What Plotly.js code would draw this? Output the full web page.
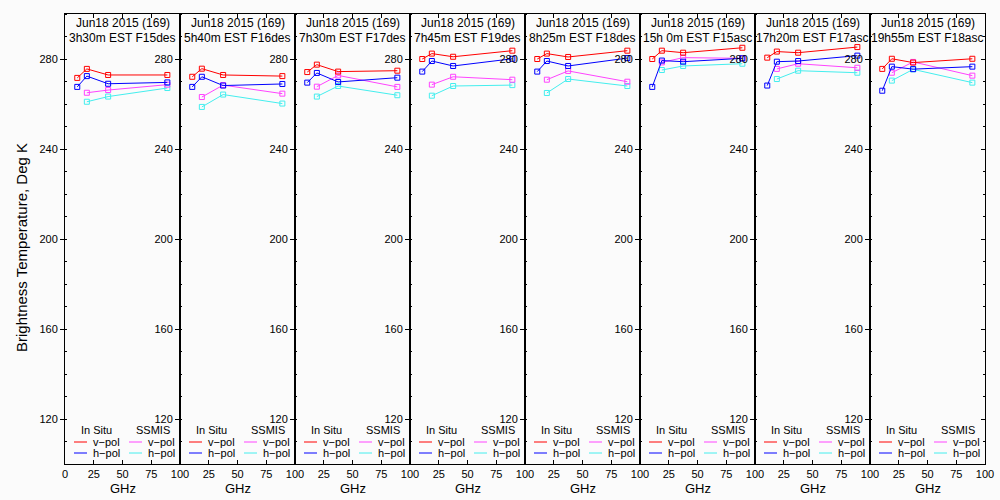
<!DOCTYPE html>
<html>
<head>
<meta charset="utf-8">
<script src="https://cdn.plot.ly/plotly-3.0.1.min.js"></script>
<style>html,body{margin:0;padding:0;background:#fbfbfb;}#chart{width:1000px;height:500px;}</style>
</head>
<body>
<div id="chart"></div>
<script>
// ---- data ----
const dateLabels = ["Jun18 2015 (169)","Jun18 2015 (169)","Jun18 2015 (169)","Jun18 2015 (169)",
                    "Jun18 2015 (169)","Jun18 2015 (169)","Jun18 2015 (169)","Jun18 2015 (169)"];
const timeLabels = ["3h30m EST F15des","5h40m EST F16des","7h30m EST F17des","7h45m EST F19des",
                    "8h25m EST F18des","15h 0m EST F15asc","17h20m EST F17asc","19h55m EST F18asc"];
const insituFreq = [10.65, 19, 37.5, 89];
const ssmisFreq = [19, 37.5, 89];
const insituV = [
  [271.6, 275.6, 272.9, 272.9],
  [272.1, 275.7, 272.9, 272.4],
  [274.2, 277.5, 274.4, 274.8],
  [280.0, 282.4, 281.0, 283.7],
  [280.0, 282.4, 280.9, 283.7],
  [280.0, 283.7, 282.8, 285.0],
  [280.6, 283.3, 282.8, 285.3],
  [275.6, 280.1, 278.4, 280.1]
];
const insituH = [
  [267.6, 272.4, 269.0, 269.6],
  [267.6, 272.1, 268.2, 268.9],
  [269.5, 273.8, 269.8, 271.7],
  [274.4, 279.1, 276.9, 280.1],
  [274.4, 279.1, 276.9, 280.4],
  [267.6, 279.3, 278.8, 280.3],
  [268.2, 278.8, 279.1, 281.5],
  [265.9, 276.6, 275.5, 276.6]
];
const ssmisV = [
  [265.0, 266.2, 268.6],
  [263.1, 268.4, 264.6],
  [267.7, 272.7, 267.6],
  [268.6, 272.1, 270.8],
  [270.8, 274.7, 269.9],
  [278.5, 280.6, 280.3],
  [275.6, 277.9, 276.1],
  [273.9, 278.7, 272.6]
];
const ssmisH = [
  [261.0, 263.3, 267.1],
  [258.7, 264.2, 260.2],
  [263.3, 268.0, 263.9],
  [263.7, 268.0, 268.4],
  [264.9, 271.1, 268.0],
  [275.1, 276.9, 277.9],
  [271.1, 274.8, 273.9],
  [270.4, 275.4, 269.5]
];
const xTickVals = [0, 25, 50, 75, 100];
const xTickTextFirst = ["0", "25", "50", "75", "100"];
const xTickTextOther = ["", "25", "50", "75", "100"];
const legendHeaders = ["In Situ", "SSMIS"];
const legendPol = ["v\u2212pol", "h\u2212pol"];

// ---- styles ----
const colV = "#ff0000", colH = "#0000ff", colSV = "#ff44ff", colSH = "#44eeee";
const FONT = "Liberation Sans, Arial, sans-serif";
const nP = 8;
const W = 1000, H = 500;
const left0 = 65, pw = 115;
const yTop = 14, yBot = 464;
const ydom = [1 - yBot / H, 1 - yTop / H];

const traces = [];
const layout = {
  width: W, height: H,
  margin: {l: 0, r: 0, t: 0, b: 0},
  paper_bgcolor: "#fbfbfb",
  plot_bgcolor: "#fbfbfb",
  showlegend: false,
  font: {family: FONT, size: 11, color: "#000"},
  annotations: [],
  shapes: []
};

function mk(x, y, color, i) {
  const s = i === 0 ? "" : String(i + 1);
  return {
    x: x, y: y, xaxis: "x" + s, yaxis: "y" + s,
    type: "scatter", mode: "lines+markers",
    line: {color: color, width: 1},
    marker: {symbol: "square-open", size: 5, color: color, line: {color: color, width: 1}},
    hoverinfo: "skip", cliponaxis: false
  };
}

for (let i = 0; i < nP; i++) {
  const s = i === 0 ? "" : String(i + 1);
  traces.push(mk(ssmisFreq, ssmisH[i], colSH, i));
  traces.push(mk(ssmisFreq, ssmisV[i], colSV, i));
  traces.push(mk(insituFreq, insituH[i], colH, i));
  traces.push(mk(insituFreq, insituV[i], colV, i));

  const L = left0 + pw * i;
  layout["xaxis" + s] = {
    domain: [L / W, (L + pw) / W],
    anchor: "y" + s,
    range: [0, 100],
    tickmode: "array", tickvals: xTickVals,
    ticktext: i === 0 ? xTickTextFirst : xTickTextOther,
    ticks: "inside", ticklen: 4, tickcolor: "#000", tickwidth: 1,
    showline: true, linecolor: "#000", linewidth: 1, mirror: "ticks",
    showgrid: false, zeroline: false, fixedrange: true,
    tickfont: {family: FONT, size: 11, color: "#000"}
  };
  layout["yaxis" + s] = {
    domain: ydom,
    anchor: "x" + s,
    range: [100, 300],
    tickmode: "linear", tick0: 120, dtick: 40,
    ticks: "outside", ticklen: 4, tickcolor: "#000", tickwidth: 1,
    minor: {tickmode: "linear", tick0: 100, dtick: 10, ticks: "inside", ticklen: 2, tickcolor: "#000", tickwidth: 1, showgrid: false},
    showline: true, linecolor: "#000", linewidth: 1, mirror: true,
    showgrid: false, zeroline: false, fixedrange: true,
    tickfont: {family: FONT, size: 11, color: "#000"}
  };

  // titles
  layout.annotations.push({
    text: dateLabels[i], xref: "x" + s + " domain", yref: "paper",
    x: 0.5, y: 1 - 23 / H, xanchor: "center", yanchor: "middle",
    showarrow: false, font: {family: FONT, size: 12, color: "#000"}
  });
  layout.annotations.push({
    text: timeLabels[i], xref: "x" + s + " domain", yref: "paper",
    x: 0.5, y: 1 - 38 / H, xanchor: "center", yanchor: "middle",
    showarrow: false, font: {family: FONT, size: 12, color: "#000"}
  });
  // GHz
  layout.annotations.push({
    text: "GHz", xref: "x" + s + " domain", yref: "paper",
    x: 0.5, y: 1 - 488 / H, xanchor: "center", yanchor: "middle",
    showarrow: false, font: {family: FONT, size: 13, color: "#000"}
  });
  // legend
  const xr = "x" + s + " domain", yr = "y" + s + " domain";
  const yHead = (yBot - 430) / (yBot - yTop);
  const yRow = [(yBot - 442) / (yBot - yTop), (yBot - 453) / (yBot - yTop)];
  layout.annotations.push({text: legendHeaders[0], xref: xr, yref: yr, x: 31 / pw, y: yHead,
    xanchor: "center", yanchor: "middle", showarrow: false, font: {family: FONT, size: 11, color: "#000"}});
  layout.annotations.push({text: legendHeaders[1], xref: xr, yref: yr, x: 88 / pw, y: yHead,
    xanchor: "center", yanchor: "middle", showarrow: false, font: {family: FONT, size: 11, color: "#000"}});
  const cols = [[colV, colH], [colSV, colSH]];
  const lx = [[9, 22, 26], [64, 77, 81]];
  for (let c = 0; c < 2; c++) {
    for (let r = 0; r < 2; r++) {
      layout.shapes.push({type: "line", xref: xr, yref: yr,
        x0: lx[c][0] / pw, x1: lx[c][1] / pw, y0: yRow[r], y1: yRow[r],
        line: {color: cols[c][r], width: 1}});
      layout.annotations.push({text: legendPol[r], xref: xr, yref: yr,
        x: lx[c][2] / pw, y: yRow[r], xanchor: "left", yanchor: "middle",
        showarrow: false, font: {family: FONT, size: 11, color: "#000"}});
    }
  }
}

// right-side ticks of the last panel
layout.yaxis9 = {
  overlaying: "y8", anchor: "x8", side: "right",
  range: [100, 300], tickmode: "linear", tick0: 120, dtick: 40,
  ticks: "inside", ticklen: 4, tickcolor: "#000", showticklabels: false,
  minor: {tickmode: "linear", tick0: 100, dtick: 10, ticks: "inside", ticklen: 2, tickcolor: "#000", showgrid: false},
  showline: false, showgrid: false, zeroline: false, fixedrange: true
};
traces.push({x: [], y: [], xaxis: "x8", yaxis: "y9", type: "scatter", mode: "lines", hoverinfo: "skip"});

// y title
layout.annotations.push({
  text: "Brightness Temperature, Deg K", xref: "paper", yref: "paper",
  x: 21 / W, y: 1 - 248 / H, xanchor: "center", yanchor: "middle", textangle: -90,
  showarrow: false, font: {family: FONT, size: 15, color: "#000"}
});

Plotly.newPlot("chart", traces, layout, {displayModeBar: false, staticPlot: true});
</script>
</body>
</html>
